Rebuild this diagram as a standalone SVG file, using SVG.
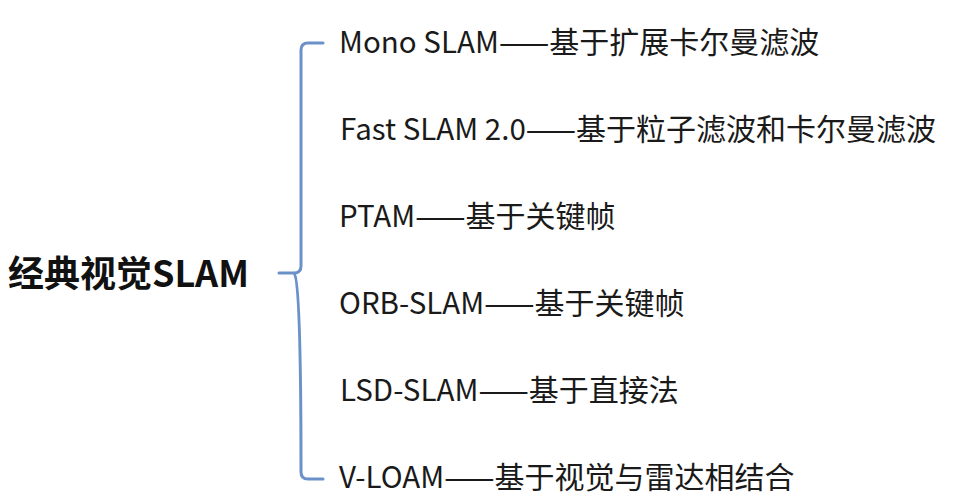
<svg xmlns="http://www.w3.org/2000/svg" width="969" height="504" viewBox="0 0 969 504">
<style>
.t{font-family:"Noto Sans CJK SC","Source Han Sans SC","Noto Sans",sans-serif;font-size:29.5px;fill:#1a1a1a}
.c{font-size:30px}
.title{font-family:"Noto Sans CJK SC","Noto Sans",sans-serif;font-size:36px;font-weight:bold;fill:#111}
.br{fill:none;stroke:#6b91c9;stroke-width:3;stroke-linecap:round;stroke-linejoin:round}
</style>
<rect width="969" height="504" fill="#fff"/>
<g id="root"><text class="title" x="8" y="287">经典视觉SLAM</text></g>
<g id="connectors"><path class="br" d="M323,43 L308,43 Q301,43 301,50 L301,266 Q301,273 294,273 L279,273 M301,472 Q301,280 294,273 M301,472 Q301,479 308,479 L323,479"/></g>
<g id="n1"><text class="t" x="339" y="53">Mono SLAM<tspan class="c">——基于扩展卡尔曼滤波</tspan></text></g>
<g id="n2"><text class="t" x="340" y="140">Fast SLAM 2.0<tspan class="c">——基于粒子滤波和卡尔曼滤波</tspan></text></g>
<g id="n3"><text class="t" x="339" y="227">PTAM<tspan class="c">——基于关键帧</tspan></text></g>
<g id="n4"><text class="t" x="339" y="314">ORB-SLAM<tspan class="c">——基于关键帧</tspan></text></g>
<g id="n5"><text class="t" x="340" y="401">LSD-SLAM<tspan class="c">——基于直接法</tspan></text></g>
<g id="n6"><text class="t" x="339" y="488">V-LOAM<tspan class="c">——基于视觉与雷达相结合</tspan></text></g>
</svg>
